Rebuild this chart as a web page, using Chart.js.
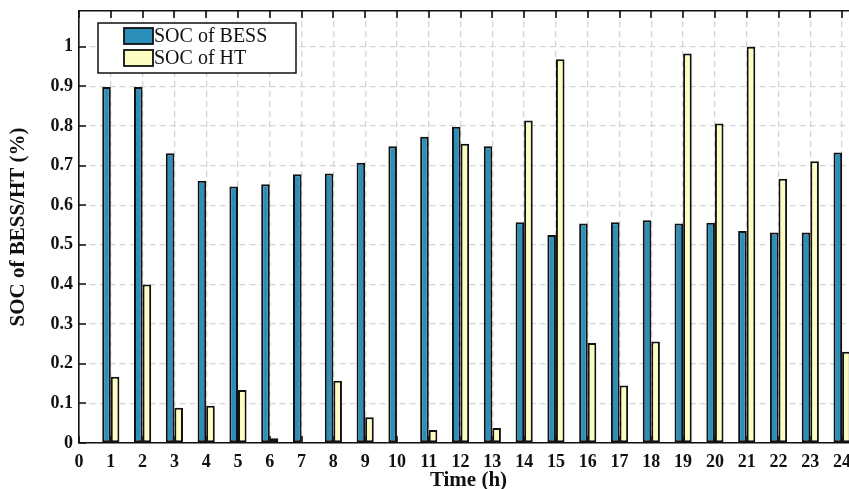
<!DOCTYPE html>
<html>
<head>
<meta charset="utf-8">
<script src="https://cdn.jsdelivr.net/npm/chart.js@4/dist/chart.umd.min.js"></script>
<style>
  html, body { margin: 0; padding: 0; overflow: hidden; background: #ffffff; }
  #wrap { width: 862px; height: 489px; }
</style>
</head>
<body>
<div id="wrap"><canvas id="c" width="862" height="489"></canvas></div>
<script>
// Hourly state of charge of the battery storage (BESS) and hydrogen tank (HT)
const hours = [1, 2, 3, 4, 5, 6, 7, 8, 9, 10, 11, 12, 13, 14, 15, 16, 17, 18, 19, 20, 21, 22, 23, 24];
const socBESS = [0.898, 0.898, 0.731, 0.662, 0.647, 0.653, 0.678, 0.680, 0.707, 0.749, 0.773, 0.798,
                 0.749, 0.557, 0.525, 0.554, 0.557, 0.562, 0.554, 0.556, 0.535, 0.531, 0.531, 0.733];
const socHT = [0.167, 0.400, 0.089, 0.094, 0.134, 0.012, 0.0, 0.157, 0.065, 0.0, 0.033, 0.755,
               0.038, 0.814, 0.968, 0.252, 0.145, 0.256, 0.983, 0.806, 1.0, 0.667, 0.711, 0.230];
const xTicks = [0, 1, 2, 3, 4, 5, 6, 7, 8, 9, 10, 11, 12, 13, 14, 15, 16, 17, 18, 19, 20, 21, 22, 23, 24];
const yTicks = [0, 0.1, 0.2, 0.3, 0.4, 0.5, 0.6, 0.7, 0.8, 0.9, 1];
const seriesNames = ['SOC of BESS', 'SOC of HT'];
const seriesColors = ['#2b8fba', '#fdfdc1'];

const SERIF = '"Liberation Serif", "Times New Roman", serif';
const INK = '#111111';
const tickFont = { family: SERIF, weight: 'bold', size: 18 };
const titleFont = { family: SERIF, weight: 'bold', size: 21, lineHeight: 1 };
const gridStyle = { color: '#d4d4d4', lineWidth: 1.3, drawTicks: false };
const axisBorder = { display: true, color: INK, width: 1.6, dash: [6, 4] };

// Inward tick marks on left, bottom and top edges of the axes box
const innerTicks = {
  id: 'innerTicks',
  afterDatasetsDraw(chart) {
    const { ctx, chartArea: a, scales: { x, y } } = chart;
    ctx.save();
    ctx.strokeStyle = INK;
    ctx.lineWidth = 1.6;
    ctx.beginPath();
    xTicks.forEach(v => {
      const px = Math.round(x.getPixelForValue(v));
      ctx.moveTo(px, a.top); ctx.lineTo(px, a.top + 7);
      ctx.moveTo(px, a.bottom); ctx.lineTo(px, a.bottom - 7);
    });
    yTicks.forEach(v => {
      const py = Math.round(y.getPixelForValue(v));
      ctx.moveTo(a.left, py); ctx.lineTo(a.left + 7, py);
    });
    ctx.stroke();
    ctx.restore();
  }
};

// Boxed legend in the upper-left corner of the axes
const boxedLegend = {
  id: 'boxedLegend',
  afterDraw(chart) {
    const { ctx } = chart;
    const bx = 98, by = 23, bw = 198, bh = 50;
    ctx.save();
    ctx.fillStyle = '#ffffff';
    ctx.fillRect(bx, by, bw, bh);
    ctx.strokeStyle = INK;
    ctx.lineWidth = 1.5;
    ctx.strokeRect(bx, by, bw, bh);
    ctx.font = '20px ' + SERIF;
    ctx.textBaseline = 'middle';
    ctx.textAlign = 'left';
    chart.data.datasets.forEach((ds, i) => {
      const cy = by + 13 + i * 22;
      ctx.fillStyle = ds.backgroundColor;
      ctx.fillRect(124, cy - 8, 29, 16);
      ctx.lineWidth = 1.8;
      ctx.strokeStyle = INK;
      ctx.strokeRect(124, cy - 8, 29, 16);
      ctx.fillStyle = INK;
      ctx.fillText(ds.label, 154, cy + 1);
    });
    ctx.restore();
  }
};

const toPoints = vals => hours.map((h, i) => ({ x: h, y: vals[i] }));

// Keep the axes box fixed: no extra room reserved for half-height edge labels
const noEdgePadding = s => {
  s.paddingTop = 0; s.paddingBottom = 0; s.paddingLeft = 0; s.paddingRight = 0;
};

new Chart(document.getElementById('c'), {
  type: 'bar',
  data: {
    datasets: [socBESS, socHT].map((vals, i) => ({
      label: seriesNames[i],
      data: toPoints(vals),
      backgroundColor: seriesColors[i],
      borderColor: INK,
      borderWidth: 2,
      borderSkipped: false,
      categoryPercentage: 0.54,
      barPercentage: 1.0,
      xAxisID: 'x',
      yAxisID: 'y'
    }))
  },
  options: {
    responsive: false,
    animation: false,
    devicePixelRatio: 1,
    layout: { padding: { left: 0, right: 4, top: 0, bottom: 0 } },
    plugins: { legend: { display: false }, tooltip: { enabled: false } },
    scales: {
      x: {
        type: 'linear',
        position: 'bottom',
        offset: false,
        min: 0,
        max: 24.5,
        afterBuildTicks: s => { s.ticks = xTicks.map(v => ({ value: v })); },
        afterFit: s => { s.height = 46; noEdgePadding(s); },
        ticks: { autoSkip: false, maxRotation: 0, padding: 9, color: INK, font: tickFont },
        grid: Object.assign({ offset: false }, gridStyle),
        border: axisBorder,
        title: { display: true, text: 'Time (h)', color: INK, font: titleFont, padding: { top: 0, bottom: -2 } }
      },
      xTop: {
        type: 'linear',
        position: 'top',
        offset: false,
        min: 0,
        max: 24.5,
        afterFit: s => { s.height = 11; noEdgePadding(s); },
        ticks: { display: false },
        grid: { display: false, drawTicks: false },
        border: { display: true, color: INK, width: 1.6 }
      },
      y: {
        type: 'linear',
        min: 0,
        max: 1.09,
        afterBuildTicks: s => { s.ticks = yTicks.map(v => ({ value: v })); },
        afterFit: s => { s.width = 79; noEdgePadding(s); },
        ticks: {
          padding: 6,
          color: INK,
          font: tickFont,
          callback: v => (v === 0 || v === 1) ? String(v) : v.toFixed(1)
        },
        grid: gridStyle,
        border: axisBorder,
        title: { display: true, text: 'SOC of BESS/HT (%)', color: INK, font: titleFont, padding: { top: 8, bottom: 0 } }
      }
    }
  },
  plugins: [innerTicks, boxedLegend]
});
</script>
</body>
</html>
